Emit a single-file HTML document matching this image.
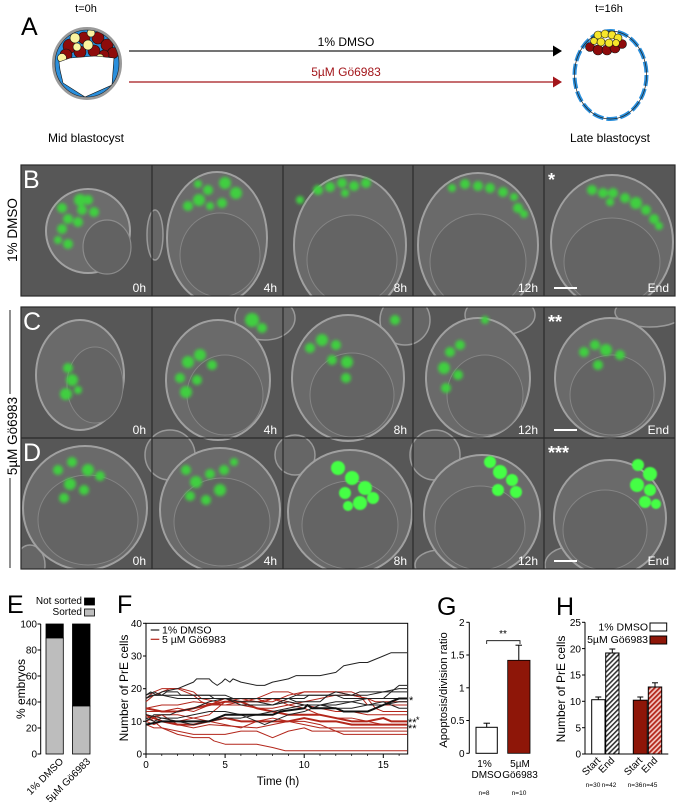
<!DOCTYPE html>
<html><head><meta charset="utf-8">
<style>
html,body{margin:0;padding:0;background:#fff;}
body{width:681px;height:804px;overflow:hidden;position:relative;}
svg{position:absolute;left:0;top:0;}
text{font-family:"Liberation Sans",Arial,sans-serif;}
</style></head><body>
<svg width="681" height="804" viewBox="0 0 681 804" xmlns="http://www.w3.org/2000/svg">
<defs>
  <filter id="gb" x="-50%" y="-50%" width="200%" height="200%"><feGaussianBlur stdDeviation="1.7"/></filter>
  <filter id="sb" x="-20%" y="-20%" width="140%" height="140%"><feGaussianBlur stdDeviation="0.8"/></filter>
  <clipPath id="embA"><ellipse cx="87" cy="63.5" rx="32" ry="33.5"/></clipPath>
  <clipPath id="cr1"><rect x="21" y="165" width="654" height="131"/></clipPath>
  <clipPath id="cr2"><rect x="21" y="307" width="654" height="262"/></clipPath>
  <pattern id="hg" patternUnits="userSpaceOnUse" width="3.5" height="3.5" patternTransform="rotate(45)">
    <rect width="3.5" height="3.5" fill="#fff"/><rect width="1.6" height="3.5" fill="#333"/></pattern>
  <pattern id="hr" patternUnits="userSpaceOnUse" width="3.5" height="3.5" patternTransform="rotate(45)">
    <rect width="3.5" height="3.5" fill="#f3c9c4"/><rect width="1.8" height="3.5" fill="#b3261b"/></pattern>
</defs>

<!-- ================= PANEL A ================= -->
<text x="21" y="35" font-size="25">A</text>
<text x="86" y="12" font-size="11" text-anchor="middle">t=0h</text>
<text x="609" y="12" font-size="11" text-anchor="middle">t=16h</text>
<text x="86" y="142" font-size="12" text-anchor="middle">Mid blastocyst</text>
<text x="610" y="142" font-size="12" text-anchor="middle">Late blastocyst</text>

<line x1="129" y1="51" x2="554" y2="51" stroke="#222" stroke-width="1.3"/>
<polygon points="553,45.5 562,51 553,56.5" fill="#000"/>
<line x1="129" y1="82" x2="554" y2="82" stroke="#a3161b" stroke-width="1.3"/>
<polygon points="553,76.5 562,82 553,87.5" fill="#a3161b"/>
<text x="346" y="46" font-size="12" text-anchor="middle">1% DMSO</text>
<text x="346" y="76" font-size="12" text-anchor="middle" fill="#a3161b">5µM Gö6983</text>

<!-- left embryo -->
<ellipse cx="87" cy="63.5" rx="33.5" ry="35" fill="#2a8fdc" stroke="#9a9a9a" stroke-width="3"/>
<g clip-path="url(#embA)" stroke="#111" stroke-width="0.6">
  <circle cx="70" cy="46" r="7" fill="#8e0b0b"/>
  <circle cx="84" cy="38" r="6" fill="#8e0b0b"/>
  <circle cx="98" cy="38" r="6" fill="#8e0b0b"/>
  <circle cx="107" cy="45" r="6" fill="#8e0b0b"/>
  <circle cx="113" cy="53" r="5.5" fill="#8e0b0b"/>
  <circle cx="66" cy="55" r="6" fill="#8e0b0b"/>
  <circle cx="80" cy="52" r="6" fill="#8e0b0b"/>
  <circle cx="94" cy="51" r="6" fill="#8e0b0b"/>
  <circle cx="104" cy="55" r="5" fill="#8e0b0b"/>
  <circle cx="75" cy="38" r="5" fill="#fbf3a0"/>
  <circle cx="88" cy="45" r="5" fill="#fbf3a0"/>
  <circle cx="77" cy="47" r="4" fill="#fbf3a0"/>
  <circle cx="62" cy="58" r="4.5" fill="#fbf3a0"/>
  <circle cx="100" cy="58" r="4" fill="#fbf3a0"/>
  <circle cx="91" cy="33" r="4" fill="#fbf3a0"/>
  <polygon points="59,62 70,58 95,56 114,58 112,85 85,97 63,83 60,70" fill="#fff"/>
</g>
<ellipse cx="87" cy="63.5" rx="32" ry="33.5" fill="none" stroke="#222" stroke-width="0.6"/>

<!-- right embryo -->
<ellipse cx="610.5" cy="75" rx="36" ry="44" fill="#fff" stroke="#2a8fdc" stroke-width="4" stroke-dasharray="11 3"/>
<ellipse cx="610.5" cy="75" rx="36" ry="44" fill="none" stroke="#222" stroke-width="0.7"/>
<g stroke="#111" stroke-width="0.6">
  <circle cx="590" cy="47" r="4.5" fill="#8e0b0b"/>
  <circle cx="598" cy="50" r="5" fill="#8e0b0b"/>
  <circle cx="607" cy="50" r="5" fill="#8e0b0b"/>
  <circle cx="615" cy="48" r="5" fill="#8e0b0b"/>
  <circle cx="622" cy="44" r="4.5" fill="#8e0b0b"/>
  <circle cx="598" cy="35" r="4" fill="#f6e62a"/>
  <circle cx="605" cy="34" r="4" fill="#f6e62a"/>
  <circle cx="612" cy="35" r="4" fill="#f6e62a"/>
  <circle cx="618" cy="38" r="4" fill="#f6e62a"/>
  <circle cx="594" cy="41" r="3.5" fill="#f6e62a"/>
  <circle cx="601" cy="42" r="4" fill="#f6e62a"/>
  <circle cx="609" cy="43" r="4" fill="#f6e62a"/>
  <circle cx="616" cy="43" r="3.5" fill="#f6e62a"/>
</g>

<!-- ================= MICROGRAPHS ================= -->
<rect x="21" y="165" width="654" height="131" fill="#575757"/>
<rect x="21" y="307" width="654" height="262" fill="#575757"/>

<g clip-path="url(#cr1)">
  <ellipse cx="88" cy="231" rx="42" ry="42" fill="#6c6c6c" stroke="#a2a2a2" stroke-width="2"/>
  <ellipse cx="107" cy="247" rx="24" ry="27" fill="#626262" stroke="#8c8c8c" stroke-width="1.2"/>
  <ellipse cx="155" cy="235" rx="8" ry="25" fill="#666" stroke="#999" stroke-width="1.5"/>
  <ellipse cx="217" cy="238" rx="50" ry="66" fill="#6a6a6a" stroke="#a0a0a0" stroke-width="2"/>
  <ellipse cx="220" cy="255" rx="40" ry="42" fill="#646464" stroke="#858585" stroke-width="1"/>
  <ellipse cx="350" cy="245" rx="56" ry="70" fill="#6a6a6a" stroke="#a0a0a0" stroke-width="2"/>
  <ellipse cx="352" cy="260" rx="45" ry="45" fill="#646464" stroke="#858585" stroke-width="1"/>
  <ellipse cx="478" cy="245" rx="60" ry="72" fill="#6a6a6a" stroke="#a0a0a0" stroke-width="2"/>
  <ellipse cx="478" cy="262" rx="48" ry="48" fill="#646464" stroke="#858585" stroke-width="1"/>
  <ellipse cx="612" cy="242" rx="61" ry="67" fill="#6a6a6a" stroke="#a0a0a0" stroke-width="2"/>
  <ellipse cx="612" cy="262" rx="48" ry="44" fill="#646464" stroke="#858585" stroke-width="1"/>
  <g filter="url(#gb)" fill="#3fcf3f">
    <circle cx="62" cy="208" r="5"/><circle cx="80" cy="200" r="6"/><circle cx="88" cy="200" r="5"/>
    <circle cx="82" cy="210" r="5"/><circle cx="94" cy="212" r="5"/><circle cx="68" cy="219" r="5"/>
    <circle cx="78" cy="222" r="5"/><circle cx="62" cy="229" r="5"/><circle cx="58" cy="240" r="4"/>
    <circle cx="68" cy="244" r="5"/>
    <circle cx="188" cy="206" r="5"/><circle cx="199" cy="200" r="6"/><circle cx="208" cy="190" r="5"/>
    <circle cx="225" cy="183" r="6"/><circle cx="236" cy="193" r="6"/><circle cx="222" cy="203" r="5"/>
    <circle cx="210" cy="206" r="4"/><circle cx="198" cy="184" r="4"/>
    <circle cx="318" cy="190" r="5"/><circle cx="330" cy="187" r="5"/><circle cx="342" cy="183" r="5"/>
    <circle cx="354" cy="186" r="5"/><circle cx="366" cy="183" r="5"/><circle cx="345" cy="193" r="4"/>
    <circle cx="300" cy="200" r="4"/>
    <circle cx="452" cy="188" r="4"/><circle cx="465" cy="184" r="5"/><circle cx="478" cy="186" r="5"/>
    <circle cx="490" cy="188" r="5"/><circle cx="503" cy="192" r="5"/><circle cx="514" cy="197" r="4"/>
    <circle cx="518" cy="208" r="5"/><circle cx="524" cy="214" r="4"/>
    <circle cx="592" cy="190" r="5"/><circle cx="603" cy="193" r="5"/><circle cx="613" cy="193" r="5"/>
    <circle cx="625" cy="198" r="5"/><circle cx="636" cy="203" r="6"/><circle cx="646" cy="210" r="5"/>
    <circle cx="654" cy="219" r="5"/><circle cx="659" cy="226" r="4"/><circle cx="610" cy="202" r="4"/>
  </g>
</g>

<g clip-path="url(#cr2)">
  <ellipse cx="265" cy="318" rx="30" ry="22" fill="#666" stroke="#999" stroke-width="1.5"/>
  <ellipse cx="405" cy="320" rx="25" ry="25" fill="#666" stroke="#999" stroke-width="1.5"/>
  <ellipse cx="500" cy="315" rx="35" ry="20" fill="#666" stroke="#999" stroke-width="1.5"/>
  <ellipse cx="650" cy="312" rx="35" ry="15" fill="#666" stroke="#999" stroke-width="1.5"/>
  <ellipse cx="30" cy="565" rx="15" ry="20" fill="#666" stroke="#999" stroke-width="1.5"/>
  <ellipse cx="170" cy="455" rx="25" ry="25" fill="#666" stroke="#999" stroke-width="1.5"/>
  <ellipse cx="295" cy="455" rx="20" ry="20" fill="#666" stroke="#999" stroke-width="1.5"/>
  <ellipse cx="435" cy="455" rx="25" ry="25" fill="#666" stroke="#999" stroke-width="1.5"/>
  <ellipse cx="440" cy="565" rx="25" ry="15" fill="#666" stroke="#999" stroke-width="1.5"/>
  <ellipse cx="570" cy="565" rx="25" ry="18" fill="#666" stroke="#999" stroke-width="1.5"/>
  <ellipse cx="80" cy="375" rx="44" ry="55" fill="#6a6a6a" stroke="#a0a0a0" stroke-width="2"/>
  <ellipse cx="95" cy="385" rx="28" ry="38" fill="#646464" stroke="#858585" stroke-width="1"/>
  <ellipse cx="218" cy="380" rx="52" ry="60" fill="#6a6a6a" stroke="#a0a0a0" stroke-width="2"/>
  <ellipse cx="225" cy="395" rx="38" ry="40" fill="#646464" stroke="#858585" stroke-width="1"/>
  <ellipse cx="348" cy="378" rx="56" ry="63" fill="#6a6a6a" stroke="#a0a0a0" stroke-width="2"/>
  <ellipse cx="352" cy="395" rx="42" ry="42" fill="#646464" stroke="#858585" stroke-width="1"/>
  <ellipse cx="478" cy="378" rx="52" ry="60" fill="#6a6a6a" stroke="#a0a0a0" stroke-width="2"/>
  <ellipse cx="485" cy="395" rx="38" ry="40" fill="#646464" stroke="#858585" stroke-width="1"/>
  <ellipse cx="610" cy="378" rx="55" ry="60" fill="#6a6a6a" stroke="#a0a0a0" stroke-width="2"/>
  <ellipse cx="612" cy="395" rx="42" ry="40" fill="#646464" stroke="#858585" stroke-width="1"/>
  <ellipse cx="85" cy="508" rx="62" ry="62" fill="#6a6a6a" stroke="#a0a0a0" stroke-width="2"/>
  <ellipse cx="88" cy="520" rx="50" ry="45" fill="#646464" stroke="#858585" stroke-width="1"/>
  <ellipse cx="220" cy="510" rx="60" ry="62" fill="#6a6a6a" stroke="#a0a0a0" stroke-width="2"/>
  <ellipse cx="222" cy="522" rx="48" ry="44" fill="#646464" stroke="#858585" stroke-width="1"/>
  <ellipse cx="350" cy="512" rx="62" ry="62" fill="#6a6a6a" stroke="#a0a0a0" stroke-width="2"/>
  <ellipse cx="350" cy="525" rx="48" ry="44" fill="#646464" stroke="#858585" stroke-width="1"/>
  <ellipse cx="482" cy="515" rx="58" ry="60" fill="#6a6a6a" stroke="#a0a0a0" stroke-width="2"/>
  <ellipse cx="480" cy="528" rx="45" ry="42" fill="#646464" stroke="#858585" stroke-width="1"/>
  <ellipse cx="610" cy="518" rx="56" ry="58" fill="#6a6a6a" stroke="#a0a0a0" stroke-width="2"/>
  <ellipse cx="605" cy="530" rx="42" ry="40" fill="#646464" stroke="#858585" stroke-width="1"/>
  <g filter="url(#gb)" fill="#3fcf3f">
    <circle cx="68" cy="368" r="5"/><circle cx="72" cy="380" r="6"/><circle cx="66" cy="394" r="6"/><circle cx="78" cy="390" r="4"/>
    <circle cx="180" cy="378" r="5"/><circle cx="188" cy="362" r="6"/><circle cx="200" cy="355" r="6"/>
    <circle cx="212" cy="365" r="5"/><circle cx="186" cy="392" r="6"/><circle cx="197" cy="380" r="5"/>
    <circle cx="252" cy="320" r="7"/><circle cx="262" cy="328" r="5"/>
    <circle cx="310" cy="348" r="5"/><circle cx="322" cy="340" r="6"/><circle cx="336" cy="345" r="5"/>
    <circle cx="332" cy="360" r="5"/><circle cx="347" cy="362" r="6"/><circle cx="346" cy="378" r="5"/>
    <circle cx="395" cy="320" r="5"/>
    <circle cx="444" cy="368" r="6"/><circle cx="450" cy="352" r="5"/><circle cx="460" cy="345" r="5"/>
    <circle cx="446" cy="388" r="5"/><circle cx="458" cy="375" r="5"/><circle cx="485" cy="320" r="4"/>
    <circle cx="584" cy="352" r="5"/><circle cx="595" cy="345" r="5"/><circle cx="606" cy="350" r="6"/>
    <circle cx="620" cy="355" r="5"/><circle cx="598" cy="365" r="5"/>
    <circle cx="58" cy="470" r="5"/><circle cx="72" cy="462" r="5"/><circle cx="88" cy="470" r="6"/>
    <circle cx="100" cy="476" r="5"/><circle cx="70" cy="484" r="6"/><circle cx="84" cy="490" r="5"/>
    <circle cx="64" cy="498" r="5"/>
    <circle cx="186" cy="470" r="5"/><circle cx="196" cy="482" r="6"/><circle cx="210" cy="474" r="5"/>
    <circle cx="224" cy="470" r="5"/><circle cx="190" cy="496" r="5"/><circle cx="206" cy="500" r="5"/>
    <circle cx="220" cy="490" r="6"/><circle cx="234" cy="462" r="4"/>
  </g>
  <g filter="url(#sb)" fill="#45ff45">
    <circle cx="338" cy="468" r="7"/><circle cx="352" cy="478" r="7"/><circle cx="365" cy="488" r="7"/>
    <circle cx="345" cy="493" r="6"/><circle cx="360" cy="503" r="7"/><circle cx="373" cy="498" r="6"/>
    <circle cx="348" cy="506" r="5"/>
    <circle cx="490" cy="462" r="6"/><circle cx="500" cy="472" r="7"/><circle cx="512" cy="480" r="6"/>
    <circle cx="498" cy="490" r="6"/><circle cx="516" cy="492" r="6"/>
    <circle cx="638" cy="465" r="6"/><circle cx="650" cy="474" r="7"/><circle cx="637" cy="485" r="7"/>
    <circle cx="650" cy="490" r="6"/><circle cx="645" cy="502" r="6"/><circle cx="656" cy="504" r="5"/>
  </g>
</g>

<g fill="none" stroke="#2a2a2a" stroke-width="1.2">
  <rect x="21" y="165" width="654" height="131"/>
  <rect x="21" y="307" width="654" height="262"/>
  <line x1="21" y1="438" x2="675" y2="438"/>
  <line x1="152" y1="165" x2="152" y2="296"/><line x1="283" y1="165" x2="283" y2="296"/>
  <line x1="413" y1="165" x2="413" y2="296"/><line x1="544" y1="165" x2="544" y2="296"/>
  <line x1="152" y1="307" x2="152" y2="569"/><line x1="283" y1="307" x2="283" y2="569"/>
  <line x1="413" y1="307" x2="413" y2="569"/><line x1="544" y1="307" x2="544" y2="569"/>
</g>

<g fill="#fff">
  <text x="23" y="188" font-size="25">B</text>
  <text x="23" y="330" font-size="25">C</text>
  <text x="23" y="461" font-size="25">D</text>
  <g font-size="12" text-anchor="end">
    <text x="146" y="292">0h</text><text x="277" y="292">4h</text><text x="407" y="292">8h</text>
    <text x="538" y="292">12h</text><text x="669" y="292">End</text>
    <text x="146" y="434">0h</text><text x="277" y="434">4h</text><text x="407" y="434">8h</text>
    <text x="538" y="434">12h</text><text x="669" y="434">End</text>
    <text x="146" y="565">0h</text><text x="277" y="565">4h</text><text x="407" y="565">8h</text>
    <text x="538" y="565">12h</text><text x="669" y="565">End</text>
  </g>
  <g font-size="18" font-weight="bold">
    <text x="548" y="186">*</text><text x="548" y="328">**</text><text x="548" y="459">***</text>
  </g>
</g>
<g stroke="#fff" stroke-width="2">
  <line x1="554" y1="288" x2="577" y2="288"/>
  <line x1="554" y1="430" x2="577" y2="430"/>
  <line x1="554" y1="561" x2="577" y2="561"/>
</g>

<text transform="translate(17,230) rotate(-90)" font-size="13.5" text-anchor="middle">1% DMSO</text>
<text transform="translate(17,436) rotate(-90)" font-size="13.5" text-anchor="middle">5µM Gö6983</text>
<line x1="10" y1="310" x2="10" y2="394" stroke="#222" stroke-width="1"/>
<line x1="10" y1="478" x2="10" y2="568" stroke="#222" stroke-width="1"/>

<!-- ================= PANEL E ================= -->
<text x="7" y="613" font-size="25">E</text>
<text x="82" y="604" font-size="10" text-anchor="end">Not sorted</text>
<rect x="84.5" y="598" width="10" height="7" fill="#000" stroke="#000" stroke-width="0.8"/>
<text x="82" y="615" font-size="10" text-anchor="end">Sorted</text>
<rect x="84.5" y="609" width="10" height="7" fill="#bdbdbd" stroke="#000" stroke-width="0.8"/>
<line x1="40.7" y1="624" x2="40.7" y2="754.3" stroke="#000" stroke-width="1"/>
<g stroke="#000" stroke-width="1">
  <line x1="37.5" y1="624" x2="40.7" y2="624"/><line x1="37.5" y1="650" x2="40.7" y2="650"/>
  <line x1="37.5" y1="676" x2="40.7" y2="676"/><line x1="37.5" y1="702" x2="40.7" y2="702"/>
  <line x1="37.5" y1="728" x2="40.7" y2="728"/><line x1="37.5" y1="754" x2="40.7" y2="754"/>
</g>
<g font-size="10" text-anchor="end">
  <text x="37" y="627.5">100</text><text x="37" y="653.5">80</text><text x="37" y="679.5">60</text>
  <text x="37" y="705.5">40</text><text x="37" y="731.5">20</text><text x="37" y="757.5">0</text>
</g>
<text transform="translate(25,689) rotate(-90)" font-size="12" text-anchor="middle">% embryos</text>
<rect x="46" y="624" width="17.3" height="14" fill="#000" stroke="#000" stroke-width="0.8"/>
<rect x="46" y="638" width="17.3" height="116" fill="#bdbdbd" stroke="#000" stroke-width="0.8"/>
<rect x="72.5" y="624" width="17.5" height="82" fill="#000" stroke="#000" stroke-width="0.8"/>
<rect x="72.5" y="706" width="17.5" height="48" fill="#bdbdbd" stroke="#000" stroke-width="0.8"/>
<text transform="translate(64,762) rotate(-45)" font-size="10" text-anchor="end">1% DMSO</text>
<text transform="translate(91,762) rotate(-45)" font-size="10" text-anchor="end">5µM Gö6983</text>

<!-- ================= PANEL F ================= -->
<text x="117" y="613" font-size="25">F</text>
<rect x="146" y="623.3" width="261.7" height="130.7" fill="none" stroke="#000" stroke-width="1"/>
<g stroke="#000" stroke-width="1">
  <line x1="143" y1="623.3" x2="146" y2="623.3"/><line x1="143" y1="656" x2="146" y2="656"/>
  <line x1="143" y1="688.7" x2="146" y2="688.7"/><line x1="143" y1="721.3" x2="146" y2="721.3"/>
  <line x1="143" y1="754" x2="146" y2="754"/>
  <line x1="146" y1="754" x2="146" y2="758"/><line x1="225.1" y1="754" x2="225.1" y2="758"/>
  <line x1="304.2" y1="754" x2="304.2" y2="758"/><line x1="383.3" y1="754" x2="383.3" y2="758"/>
</g>
<g stroke="#000" stroke-width="0.7">
  <line x1="161.8" y1="754" x2="161.8" y2="756"/><line x1="177.6" y1="754" x2="177.6" y2="756"/>
  <line x1="193.5" y1="754" x2="193.5" y2="756"/><line x1="209.3" y1="754" x2="209.3" y2="756"/>
  <line x1="240.9" y1="754" x2="240.9" y2="756"/><line x1="256.7" y1="754" x2="256.7" y2="756"/>
  <line x1="272.6" y1="754" x2="272.6" y2="756"/><line x1="288.4" y1="754" x2="288.4" y2="756"/>
  <line x1="320" y1="754" x2="320" y2="756"/><line x1="335.8" y1="754" x2="335.8" y2="756"/>
  <line x1="351.7" y1="754" x2="351.7" y2="756"/><line x1="367.5" y1="754" x2="367.5" y2="756"/>
  <line x1="399.1" y1="754" x2="399.1" y2="756"/>
</g>
<g font-size="10" text-anchor="end">
  <text x="142" y="627">40</text><text x="142" y="659.5">30</text><text x="142" y="692">20</text>
  <text x="142" y="725">10</text><text x="142" y="757.5">0</text>
</g>
<g font-size="10" text-anchor="middle">
  <text x="146" y="768">0</text><text x="225.1" y="768">5</text><text x="304.2" y="768">10</text><text x="383.3" y="768">15</text>
</g>
<text x="278" y="785" font-size="11.5" text-anchor="middle">Time (h)</text>
<text transform="translate(128,688) rotate(-90)" font-size="12" text-anchor="middle">Number of PrE cells</text>

<g transform="translate(146,754) scale(15.82,-3.267)" fill="none" stroke-linejoin="round">
  <g stroke="#b3261b" stroke-width="1">
    <polyline vector-effect="non-scaling-stroke" points="0,12 0.5,10 1,8 2,6 3,5 4,5 4.3,4 5,3 7,3 8,2 8.8,1 16.5,1"/>
    <polyline vector-effect="non-scaling-stroke" points="0,9 0.5,8 1,8 2,7 3,6 5,6 6,7 7,7 8,5 9,7 10,8 10.5,7 12,7 12.5,6 16.5,6"/>
    <polyline vector-effect="non-scaling-stroke" points="0,10 0.5,9 1,10 2,10 3,11 4,12 4.5,14 5,16 6,17 7,17 7.5,16 8,17 9,15 10,14 11,12 12,11 13,11 14,10 15,9 16.5,9"/>
    <polyline vector-effect="non-scaling-stroke" points="0,13 1,13 2,14 3,13 4,15 5,15 6,16 7,17 8,19 9,19 9.5,18 10,19 13,19 13.5,18 14,15 16.5,15"/>
    <polyline vector-effect="non-scaling-stroke" points="0,11 1,12 2,12 3,11 4,10 5,9 6,8 7,10 8,11 9,10 10,9 11,8 16.5,8"/>
    <polyline vector-effect="non-scaling-stroke" points="0,14 1,15 2,15 3,16 5,15 6,15 7,14 8,14 9,15 10,16 11,17 12,18 13,18 14,17 14.5,16 16.5,16"/>
    <polyline vector-effect="non-scaling-stroke" points="0,17 0.5,19 1,20 2,20 2.5,19 3,18 3.5,16 4,15 5,17 6,16 7,16 8,17 9,16 10,15 11,14 12,13 13,13 14,12 16.5,12"/>
    <polyline vector-effect="non-scaling-stroke" points="0,10 0.5,11 1,12 2,9 3,8 4,9 7,8 8,9 9,10 10,10 11,9 12,7 16.5,7"/>
    <polyline vector-effect="non-scaling-stroke" points="0,16 0.5,18 1,19 1.5,20 2.2,20 3,19 3.5,17 4.5,16 5,17 6,17 7,16 8,16 9,18 10,19 12,19 13,18 14,17 14.5,14 15,13 16.5,13"/>
  </g>
  <g stroke="#b3261b" stroke-width="2">
    <polyline vector-effect="non-scaling-stroke" points="0,14 1,13 2,13 3,14 4,15 5,16 6,16 6.5,15 7,14 8,13 9,12 11,12 12,11 13,10 14,10 15,11 15.5,10 16.5,10"/>
    <polyline vector-effect="non-scaling-stroke" points="0,12 1,10 2,9 3,9 4,10 5,11 6,10 9,10 10,11 11,10 12,10 13,9 16.5,9"/>
  </g>
  <g stroke="#222" stroke-width="1">
    <polyline vector-effect="non-scaling-stroke" points="0,18 0.3,19 0.7,18 1,19 2,20 2.5,21 3,22 3.2,23 4,23 4.2,22 4.5,21 4.8,22 5,23 5.3,22 5.5,23 6,22 7,21 7.5,21 8,22 9,23 9.5,24 11,24 12,25 12.5,27 13.5,28 14,28 14.5,29 15,30 15.5,31 16.5,31"/>
    <polyline vector-effect="non-scaling-stroke" points="0,17 0.3,18 4,18 4.3,17 9,17 9.5,18 13,18 13.5,19 16.5,19"/>
    <polyline vector-effect="non-scaling-stroke" points="0,17 0.5,18 1,18 1.3,19 2,19 2.2,18 5,18 5.5,17 10,17 10.3,18 12,18 12.5,17 15,17 15.5,19 16,21 16.5,21"/>
    <polyline vector-effect="non-scaling-stroke" points="0,10 0.5,12 1.5,12 2,13 3,14 4,16 5,17 6,16 7,16 8,15 9,17 9.5,16 11,16 11.5,18 12,19 13,18 14,18 15,19 16,20 16.5,20"/>
    <polyline vector-effect="non-scaling-stroke" points="0,12 1,11 2,11 3,12 4,13 5,13 6,12 7,10 7.5,9 8,10 9,12 10,13 11,15 12,15 13,16 14,17 16.5,17"/>
    <polyline vector-effect="non-scaling-stroke" points="0,11 0.5,10 1,11 2,10 3,9 4,10 5,11 6,11 7,12 8,13 9,14 10,15 11,15 12,14 13,14 14,15 15,16 16,14 16.5,14"/>
    <polyline vector-effect="non-scaling-stroke" points="0,18 0.5,19 1,18 2,17 5,17 6,15 8,15 9,16 10,15 11,15 12,16 13,16 14,15 15,15 16,16 16.5,16"/>
  </g>
  <polyline vector-effect="non-scaling-stroke" stroke="#111" stroke-width="2" points="0,9 1,10 4,10 4.5,11 5,12 8,12 8.5,13 10,14 10.2,15 10.5,14 12,14 12.5,13 14,13 15,15 15.5,16 16,17 16.5,17"/>
</g>
<line x1="150.7" y1="630" x2="159.3" y2="630" stroke="#222" stroke-width="1.2"/>
<text x="162" y="633.5" font-size="10.5">1% DMSO</text>
<line x1="150.7" y1="639.3" x2="159.3" y2="639.3" stroke="#b3261b" stroke-width="1.2"/>
<text x="162" y="643" font-size="10.5">5 µM Gö6983</text>
<text x="409" y="704" font-size="11">*</text>
<text x="408" y="726" font-size="11">**</text>
<text x="416" y="723" font-size="9">*</text>
<text x="408" y="732" font-size="11">**</text>

<!-- ================= PANEL G ================= -->
<text x="437" y="615" font-size="25">G</text>
<line x1="469.3" y1="622.3" x2="469.3" y2="753.3" stroke="#000" stroke-width="1"/>
<g stroke="#000" stroke-width="1">
  <line x1="466.3" y1="622.3" x2="469.3" y2="622.3"/><line x1="466.3" y1="655" x2="469.3" y2="655"/>
  <line x1="466.3" y1="687.8" x2="469.3" y2="687.8"/><line x1="466.3" y1="720.5" x2="469.3" y2="720.5"/>
  <line x1="466.3" y1="753.3" x2="469.3" y2="753.3"/>
</g>
<g font-size="10" text-anchor="end">
  <text x="464.5" y="626">2</text><text x="464.5" y="658.5">1.5</text><text x="464.5" y="691.5">1</text>
  <text x="464.5" y="724">0.5</text><text x="464.5" y="757">0</text>
</g>
<text transform="translate(447,690) rotate(-90)" font-size="11.3" text-anchor="middle">Apoptosis/division ratio</text>
<g stroke="#000" stroke-width="1">
  <line x1="486.7" y1="727.3" x2="486.7" y2="723.2"/><line x1="483.5" y1="723.2" x2="490" y2="723.2"/>
  <line x1="518.8" y1="660.3" x2="518.8" y2="645.2"/><line x1="515.5" y1="645.2" x2="522" y2="645.2"/>
</g>
<rect x="476" y="727.3" width="21.3" height="26" fill="#fff" stroke="#000" stroke-width="1"/>
<rect x="507.7" y="660.3" width="22.3" height="93" fill="#8e1608" stroke="#000" stroke-width="0.8"/>
<polyline points="486.7,644 486.7,640.7 520,640.7 520,644" fill="none" stroke="#000" stroke-width="0.8"/>
<text x="503" y="637" font-size="10" text-anchor="middle">**</text>
<g font-size="10" text-anchor="middle">
  <text x="484.5" y="767">1%</text><text x="486.5" y="778">DMSO</text>
  <text x="520" y="767">5µM</text><text x="520" y="778">Gö6983</text>
</g>
<g font-size="6.5" text-anchor="middle">
  <text x="484" y="795">n=8</text><text x="519" y="795">n=10</text>
</g>

<!-- ================= PANEL H ================= -->
<text x="556" y="615" font-size="25">H</text>
<line x1="585" y1="622.3" x2="585" y2="754" stroke="#000" stroke-width="1"/>
<line x1="585" y1="754" x2="668.3" y2="754" stroke="#000" stroke-width="1"/>
<g stroke="#000" stroke-width="1">
  <line x1="582" y1="622.3" x2="585" y2="622.3"/><line x1="582" y1="648.6" x2="585" y2="648.6"/>
  <line x1="582" y1="675" x2="585" y2="675"/><line x1="582" y1="701.3" x2="585" y2="701.3"/>
  <line x1="582" y1="727.7" x2="585" y2="727.7"/><line x1="582" y1="754" x2="585" y2="754"/>
</g>
<g font-size="10" text-anchor="end">
  <text x="581" y="626">25</text><text x="581" y="652.3">20</text><text x="581" y="678.5">15</text>
  <text x="581" y="705">10</text><text x="581" y="731.3">5</text><text x="581" y="757.5">0</text>
</g>
<text transform="translate(565,689) rotate(-90)" font-size="12" text-anchor="middle">Number of PrE cells</text>
<g stroke="#000" stroke-width="1">
  <line x1="598.3" y1="699.7" x2="598.3" y2="697"/><line x1="595.3" y1="697" x2="601.3" y2="697"/>
  <line x1="612.3" y1="653" x2="612.3" y2="649"/><line x1="609.3" y1="649" x2="615.3" y2="649"/>
  <line x1="640.3" y1="700.2" x2="640.3" y2="697"/><line x1="637.3" y1="697" x2="643.3" y2="697"/>
  <line x1="655" y1="687" x2="655" y2="682.8"/><line x1="652" y1="682.8" x2="658" y2="682.8"/>
</g>
<rect x="591.7" y="699.7" width="13.3" height="54.3" fill="#fff" stroke="#000" stroke-width="1"/>
<rect x="605.7" y="653" width="13.3" height="101" fill="url(#hg)" stroke="#000" stroke-width="1"/>
<rect x="633.3" y="700.2" width="14" height="53.8" fill="#8e1608" stroke="#000" stroke-width="1"/>
<rect x="648.3" y="687" width="13.4" height="67" fill="url(#hr)" stroke="#000" stroke-width="1"/>
<text x="648" y="630.5" font-size="10.5" text-anchor="end">1% DMSO</text>
<rect x="650" y="623" width="16.7" height="8" fill="#fff" stroke="#000" stroke-width="1"/>
<text x="648" y="643" font-size="10.5" text-anchor="end">5µM Gö6983</text>
<rect x="650" y="636" width="16.7" height="8" fill="#8e1608" stroke="#000" stroke-width="1"/>
<g font-size="10" text-anchor="end">
  <text transform="translate(601,761) rotate(-45)">Start</text>
  <text transform="translate(615,761) rotate(-45)">End</text>
  <text transform="translate(643,761) rotate(-45)">Start</text>
  <text transform="translate(658,761) rotate(-45)">End</text>
</g>
<g font-size="6.5" text-anchor="middle">
  <text x="593" y="787">n=30</text><text x="609" y="787">n=42</text>
  <text x="635" y="787">n=36</text><text x="650" y="787">n=45</text>
</g>
</svg>
</body></html>
